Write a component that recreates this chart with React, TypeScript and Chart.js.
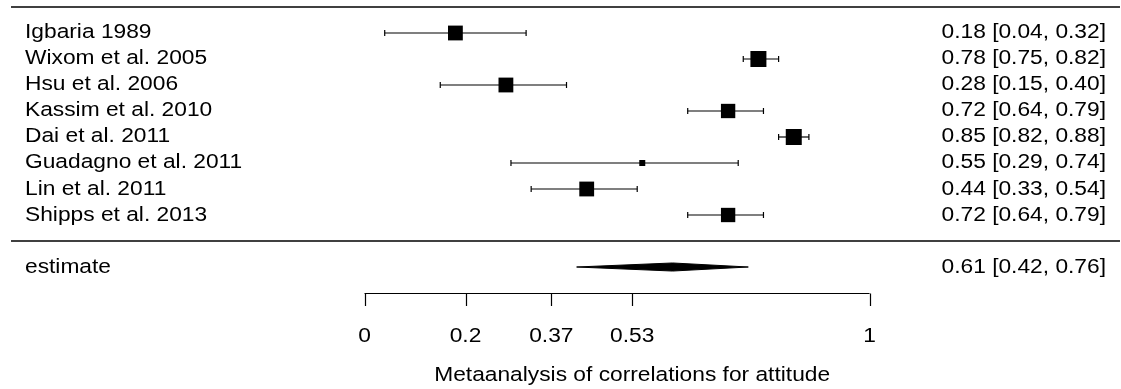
import { useEffect, useRef } from "react";
import { Chart, registerables } from "chart.js";

Chart.register(...registerables);

// ---- data ----
const studies = [
  "Igbaria 1989",
  "Wixom et al. 2005",
  "Hsu et al. 2006",
  "Kassim et al. 2010",
  "Dai et al. 2011",
  "Guadagno et al. 2011",
  "Lin et al. 2011",
  "Shipps et al. 2013",
];
const estimates = [0.18, 0.78, 0.28, 0.72, 0.85, 0.55, 0.44, 0.72];
const ciLower = [0.04, 0.75, 0.15, 0.64, 0.82, 0.29, 0.33, 0.64];
const ciUpper = [0.32, 0.82, 0.4, 0.79, 0.88, 0.74, 0.54, 0.79];
const weights = [13.1, 13.6, 13.1, 12.9, 13.6, 9.4, 13.1, 12.9];

const summaryLabel = "estimate";
const summaryEstimate = 0.61;
const summaryLower = 0.42;
const summaryUpper = 0.76;

const axisTicks = [0, 0.2, 0.37, 0.53, 1];
const axisTickLabels = ["0", "0.2", "0.37", "0.53", "1"];
const xAxisTitle = "Metaanalysis of correlations for attitude";

// ---- layout (not data) ----
const W = 1121;
const H = 389;
const X_MIN = -0.7218;
const X_MAX = 1.498;
const Y_MIN = -0.269;
const Y_MAX = 14.692;
const XLIM_L = -0.7;
const XLIM_R = 1.496;
const ROW_SEP = 9;
const ROW_SUM = 10;
const ROW_AXIS = 11;
const ROW_TICKLAB = 12.88;
const ROW_TITLE = 14.385;
const DIAMOND_HALF = 0.155;
const FONT = '20.5px "Liberation Sans", Arial, Helvetica, sans-serif';
const TEXT_STRETCH = 1.11;
const MIN_SIDE = 6;
const MAX_SIDE = 16;
const TITLE_AT = 0.53;

const fmt = (v: number) => v.toFixed(2);

export default function App() {
  const ref = useRef<HTMLCanvasElement | null>(null);

  useEffect(() => {
    if (!ref.current) return;
    const wMin = Math.min(...weights);
    const wMax = Math.max(...weights);
    const sides = weights.map(
      (w) => MIN_SIDE + ((MAX_SIDE - MIN_SIDE) * (w - wMin)) / (wMax - wMin)
    );
    const rows = studies.map((_, i) => i + 1);

    const datasets: any[] = [];
    // horizontal rules
    [0, ROW_SEP].forEach((r) => {
      datasets.push({
        type: "line",
        data: [
          { x: XLIM_L, y: r },
          { x: XLIM_R, y: r },
        ],
        borderColor: "#000",
        borderWidth: 1.3,
        pointRadius: 0,
        fill: false,
      });
    });
    // CI lines
    studies.forEach((_, i) => {
      datasets.push({
        type: "line",
        data: [
          { x: ciLower[i], y: rows[i] },
          { x: ciUpper[i], y: rows[i] },
        ],
        borderColor: "#000",
        borderWidth: 1.2,
        pointRadius: 0,
        fill: false,
      });
    });
    // CI caps
    datasets.push({
      type: "scatter",
      data: studies.flatMap((_, i) => [
        { x: ciLower[i], y: rows[i] },
        { x: ciUpper[i], y: rows[i] },
      ]),
      pointStyle: "line",
      rotation: 90,
      pointRadius: 3,
      borderColor: "#000",
      borderWidth: 1.2,
    });
    // squares
    datasets.push({
      type: "scatter",
      data: studies.map((_, i) => ({ x: estimates[i], y: rows[i] })),
      pointStyle: "rect",
      pointRadius: sides.map((s) => s / Math.SQRT2),
      backgroundColor: "#000",
      borderColor: "#000",
      borderWidth: 0,
    });
    // summary diamond (two edges filled between)
    datasets.push({
      type: "line",
      data: [
        { x: summaryLower, y: ROW_SUM },
        { x: summaryEstimate, y: ROW_SUM - DIAMOND_HALF },
        { x: summaryUpper, y: ROW_SUM },
      ],
      borderColor: "#000",
      borderWidth: 1,
      pointRadius: 0,
      backgroundColor: "#000",
      fill: "+1",
    });
    datasets.push({
      type: "line",
      data: [
        { x: summaryLower, y: ROW_SUM },
        { x: summaryEstimate, y: ROW_SUM + DIAMOND_HALF },
        { x: summaryUpper, y: ROW_SUM },
      ],
      borderColor: "#000",
      borderWidth: 1,
      pointRadius: 0,
      fill: false,
    });

    const textPlugin = {
      id: "forestText",
      afterDatasetsDraw(chart: any) {
        const ctx = chart.ctx as CanvasRenderingContext2D;
        const xs = chart.scales.x;
        const ys = chart.scales.y;
        const put = (t: string, x: number, y: number, align: CanvasTextAlign) => {
          ctx.save();
          ctx.translate(x, y);
          ctx.scale(TEXT_STRETCH, 1);
          ctx.textAlign = align;
          ctx.fillText(t, 0, 0);
          ctx.restore();
        };
        ctx.save();
        ctx.fillStyle = "#000";
        ctx.strokeStyle = "#000";
        ctx.font = FONT;
        ctx.textBaseline = "alphabetic";
        const leftX = xs.getPixelForValue(XLIM_L) + 14;
        const rightX = xs.getPixelForValue(XLIM_R) - 14;
        const base = (r: number) => ys.getPixelForValue(r) + 5.5;
        // study labels & annotations
        studies.forEach((s, i) => {
          put(s, leftX, base(rows[i]), "left");
          put(
            `${fmt(estimates[i])} [${fmt(ciLower[i])}, ${fmt(ciUpper[i])}]`,
            rightX,
            base(rows[i]),
            "right"
          );
        });
        put(summaryLabel, leftX, base(ROW_SUM), "left");
        put(
          `${fmt(summaryEstimate)} [${fmt(summaryLower)}, ${fmt(summaryUpper)}]`,
          rightX,
          base(ROW_SUM),
          "right"
        );
        // axis
        const ay = Math.round(ys.getPixelForValue(ROW_AXIS)) + 0.5;
        const tickEnd = ys.getPixelForValue(ROW_AXIS + 0.5);
        ctx.lineWidth = 1.2;
        ctx.beginPath();
        ctx.moveTo(xs.getPixelForValue(axisTicks[0]), ay);
        ctx.lineTo(xs.getPixelForValue(axisTicks[axisTicks.length - 1]), ay);
        axisTicks.forEach((t) => {
          const px = Math.round(xs.getPixelForValue(t)) + 0.5;
          ctx.moveTo(px, ay);
          ctx.lineTo(px, tickEnd);
        });
        ctx.stroke();
        axisTicks.forEach((t, i) => {
          put(axisTickLabels[i], xs.getPixelForValue(t), ys.getPixelForValue(ROW_TICKLAB), "center");
        });
        put(xAxisTitle, xs.getPixelForValue(TITLE_AT), ys.getPixelForValue(ROW_TITLE), "center");
        ctx.restore();
      },
    };

    const chart = new Chart(ref.current, {
      type: "scatter",
      data: { datasets },
      options: {
        responsive: false,
        animation: false,
        events: [],
        layout: { padding: 0, autoPadding: false },
        plugins: { legend: { display: false }, tooltip: { enabled: false }, title: { display: false } },
        scales: {
          x: { type: "linear", min: X_MIN, max: X_MAX, display: false },
          y: { type: "linear", min: Y_MIN, max: Y_MAX, reverse: true, display: false },
        },
      },
      plugins: [textPlugin],
    } as any);
    return () => chart.destroy();
  }, []);

  return (
    <div style={{ position: "fixed", left: 0, top: 0, width: W, height: H, background: "#fff" }}>
      <canvas ref={ref} width={W} height={H} style={{ display: "block" }} />
    </div>
  );
}
